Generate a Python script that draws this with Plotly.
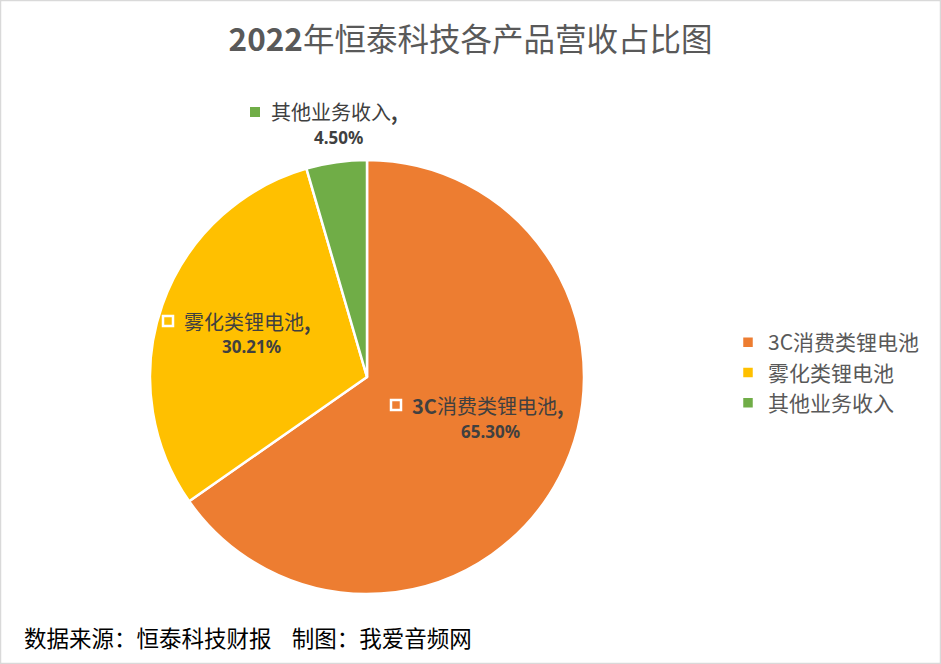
import plotly.graph_objects as go

labels = ["3C消费类锂电池", "雾化类锂电池", "其他业务收入"]
values = [65.30, 30.21, 4.50]
colors = ["#ED7D31", "#FFC000", "#70AD47"]
title_year = "2022"
title_rest = "年恒泰科技各产品营收占比图"
source_text = "数据来源：恒泰科技财报&nbsp;&nbsp;&nbsp;&nbsp;制图：我爱音频网"

W, H = 941, 664
fig = go.Figure()
fig.add_trace(go.Pie(
    labels=labels, values=values, sort=False, direction="clockwise", rotation=0,
    marker=dict(colors=colors, line=dict(color="white", width=2.5)),
    textinfo="none", hoverinfo="label+percent",
    domain=dict(x=[150 / W, 584 / W], y=[1 - 594 / H, 1 - 160 / H]),
))

def px(x):
    return x / W

def py(y):
    return 1 - y / H

def fmt_label(lab):
    # Latin part bold, CJK part regular
    i = 0
    while i < len(lab) and ord(lab[i]) < 128:
        i += 1
    head, tail = lab[:i], lab[i:]
    return ("<b>" + head + "</b>" if head else "") + tail + "<b>,</b>"

# data label positions (pixel centres), one per slice, layout only
label_pos = [(490, 405, 431, 396, True), (252, 321, 347, 168, True), (338, 112, 137, 255, False)]
lab_font = dict(family="Noto Sans CJK SC, Noto Sans", size=20, color="#404040")
pct_font = dict(family="Noto Sans, Noto Sans CJK SC", size=17, color="#404040")
annotations = []
shapes = []
for (lab, val, col, pos) in zip(labels, values, colors, label_pos):
    cx, y1, y2, mx, boxed = pos
    annotations.append(dict(x=px(mx + 14), y=py(y1), xref="paper", yref="paper",
                            text=fmt_label(lab), showarrow=False,
                            xanchor="left", yanchor="middle", font=lab_font))
    annotations.append(dict(x=px(cx), y=py(y2), xref="paper", yref="paper",
                            text="<b>%.2f%%</b>" % val, showarrow=False,
                            xanchor="center", yanchor="middle", font=pct_font))
    s = 5
    shapes.append(dict(type="rect", xref="paper", yref="paper",
                       x0=px(mx - s), x1=px(mx + s), y0=py(y1 + s), y1=py(y1 - s),
                       fillcolor=col, line=dict(color="white", width=2.5 if boxed else 0)))

annotations.append(dict(x=px(22), y=py(637), xref="paper", yref="paper",
                        text=source_text, showarrow=False, xanchor="left", yanchor="middle",
                        font=dict(family="Noto Sans CJK SC", size=22.5, color="#000000")))

shapes.append(dict(type="rect", xref="paper", yref="paper", x0=0.5 / W, x1=1 - 0.5 / W,
                   y0=0.5 / H, y1=1 - 0.5 / H, line=dict(color="#D9D9D9", width=1.5)))

fig.update_layout(
    width=W, height=H, margin=dict(l=0, r=0, t=0, b=0),
    paper_bgcolor="white", plot_bgcolor="white",
    title=dict(text="<b>" + title_year + "</b>" + title_rest, x=0.5, xanchor="center",
               y=1 - 40 / H, yanchor="middle", yref="container",
               font=dict(family="Noto Sans CJK SC, Noto Sans", size=31.5, color="#595959")),
    legend=dict(x=px(728), y=py(322), xanchor="left", yanchor="top",
                font=dict(family="Noto Sans CJK SC, Noto Sans", size=21, color="#595959"),
                bgcolor="rgba(0,0,0,0)"),
    annotations=annotations, shapes=shapes, showlegend=True,
)
fig.write_html("out.html")
